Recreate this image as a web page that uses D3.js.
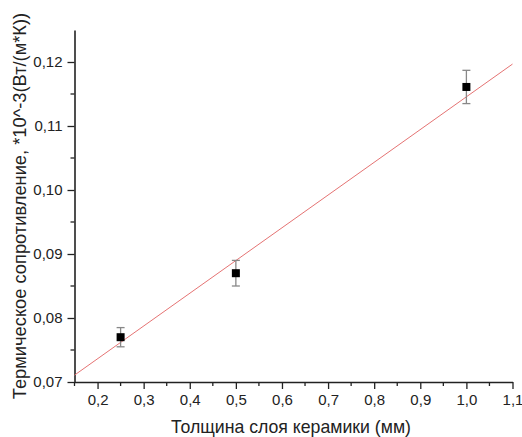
<!DOCTYPE html>
<html><head><meta charset="utf-8">
<script src="https://cdn.jsdelivr.net/npm/d3@7"></script>
<style>body{margin:0;background:#fff}svg{display:block}text{font-family:"Liberation Sans",Arial,sans-serif}</style>
</head><body><svg id="c" width="522" height="437"></svg>
<script>
const thickness = [0.25, 0.5, 1.0];
const resistance = [0.077, 0.087, 0.1161];
const errors = [0.0015, 0.002, 0.0026];
const fitSlope = 0.05116;
const fitIntercept = 0.0634;
const fitRange = [0.15, 1.1];
const xTicks = [0.2,0.3,0.4,0.5,0.6,0.7,0.8,0.9,1.0,1.1];
const yTicks = [0.07,0.08,0.09,0.10,0.11,0.12];
const xLabel = "Толщина слоя керамики (мм)";
const yLabel = "Термическое сопротивление, *10^-3(Вт/(м*К))";

const svg = d3.select("#c");
const x = d3.scaleLinear().domain([0.15,1.1]).range([74.5,512.5]);
const y = d3.scaleLinear().domain([0.07,0.125]).range([382,30]);
const fmtX = d => d.toFixed(1).replace(".",",");
const fmtY = d => d.toFixed(2).replace(".",",");

// minor ticks
const xMinor = d3.range(0.15, 1.11, 0.1).map(v=>+v.toFixed(2));
const yMinor = d3.range(0.075, 0.125, 0.01).map(v=>+v.toFixed(3));
const g = svg.append("g");
g.selectAll(".xm").data(xMinor).join("line").attr("x1",d=>x(d)).attr("x2",d=>x(d)).attr("y1",382).attr("y2",386).attr("stroke","#222").attr("stroke-width",1.3);
g.selectAll(".ym").data(yMinor).join("line").attr("y1",d=>y(d)).attr("y2",d=>y(d)).attr("x1",74.5).attr("x2",70.5).attr("stroke","#222").attr("stroke-width",1.3);

const xa = svg.append("g").attr("transform","translate(0,382)")
  .call(d3.axisBottom(x).tickValues(xTicks).tickFormat(fmtX).tickSize(7).tickSizeOuter(0).tickPadding(5));
const ya = svg.append("g").attr("transform","translate(74.5,0)")
  .call(d3.axisLeft(y).tickValues(yTicks).tickFormat(fmtY).tickSize(7).tickSizeOuter(0).tickPadding(5));
[xa,ya].forEach(a=>{
  a.select(".domain").attr("stroke","#222").attr("stroke-width",1.6);
  a.selectAll(".tick line").attr("stroke","#222").attr("stroke-width",1.3);
  a.selectAll(".tick text").attr("font-size",15).attr("fill","#222").style("font-family","Liberation Sans, Arial, sans-serif");
});

// fit line
svg.append("line")
  .attr("x1",x(fitRange[0])).attr("y1",y(fitIntercept+fitSlope*fitRange[0]))
  .attr("x2",x(fitRange[1])).attr("y2",y(fitIntercept+fitSlope*fitRange[1]))
  .attr("stroke","#e57373").attr("stroke-width",1);

// error bars
const pts = thickness.map((t,i)=>({t, r:resistance[i], e:errors[i]}));
const eb = svg.append("g").attr("stroke","#888").attr("stroke-width",1.3);
eb.selectAll(".v").data(pts).join("line").attr("x1",d=>x(d.t)).attr("x2",d=>x(d.t)).attr("y1",d=>y(d.r+d.e)).attr("y2",d=>y(d.r-d.e));
eb.selectAll(".t").data(pts).join("line").attr("x1",d=>x(d.t)-4).attr("x2",d=>x(d.t)+4).attr("y1",d=>y(d.r+d.e)).attr("y2",d=>y(d.r+d.e));
eb.selectAll(".b").data(pts).join("line").attr("x1",d=>x(d.t)-4).attr("x2",d=>x(d.t)+4).attr("y1",d=>y(d.r-d.e)).attr("y2",d=>y(d.r-d.e));

svg.selectAll(".pt").data(pts).join("rect")
  .attr("x",d=>x(d.t)-4).attr("y",d=>y(d.r)-4).attr("width",8).attr("height",8).attr("fill","#000");

svg.append("text").attr("x",291).attr("y",433).attr("text-anchor","middle").attr("font-size",17.7).attr("fill","#222").text(xLabel);
svg.append("text").attr("transform","translate(26,206) rotate(-90)").attr("text-anchor","middle").attr("font-size",18.3).attr("fill","#222").text(yLabel);
</script></body></html>
